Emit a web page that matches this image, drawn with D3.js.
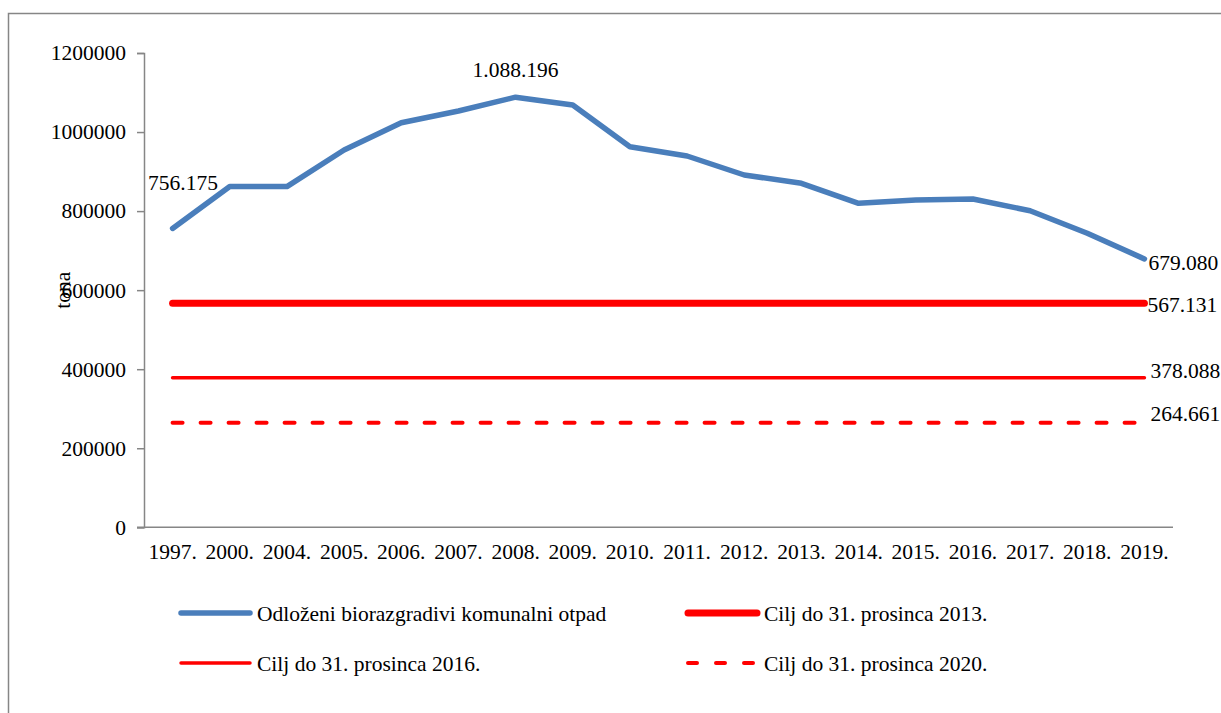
<!DOCTYPE html>
<html>
<head>
<meta charset="utf-8">
<script src="https://cdn.jsdelivr.net/npm/d3@7"></script>
<style>
  body { margin: 0; background: #fff; }
  svg { font-family: "Liberation Serif", "Times New Roman", serif; }
</style>
</head>
<body>
<svg id="chart" width="1221" height="713"></svg>
<script>
// years on the x axis
const years = ["1997.", "2000.", "2004.", "2005.", "2006.", "2007.", "2008.", "2009.", "2010.",
  "2011.", "2012.", "2013.", "2014.", "2015.", "2016.", "2017.", "2018.", "2019."];
// deposited biodegradable municipal waste (tonnes)
const waste = [756175, 862000, 862000, 954600, 1023600, 1053300, 1088196, 1068400, 963000,
  939400, 891300, 870300, 819700, 828100, 830600, 801000, 743800, 679080];
const wasteName = "Odloženi biorazgradivi komunalni otpad";
// targets
const targetNames = ["Cilj do 31. prosinca 2013.", "Cilj do 31. prosinca 2016.", "Cilj do 31. prosinca 2020."];
const targetValues = [567131, 378088, 264661];
const yTicks = [0, 200000, 400000, 600000, 800000, 1000000, 1200000];
const yLabel = "tona";

const svg = d3.select("#chart");
const fontSize = 21.5;
const axisColor = "#868686";

// frame round the whole chart
svg.append("rect")
  .attr("x", 8.5).attr("y", 13.5)
  .attr("width", 1240).attr("height", 720)
  .attr("fill", "none")
  .attr("stroke", axisColor)
  .attr("stroke-width", 1.5);

const x = d3.scaleBand().domain(years).range([144, 1173]);
const y = d3.scaleLinear().domain([0, 1200000]).range([527.3, 53]);
const cx = d => x(d) + x.bandwidth() / 2;

const loc = d3.formatLocale({ decimal: ",", thousands: ".", grouping: [3], currency: ["", ""] });
const fmt = loc.format(",d");

// y axis
const gy = svg.append("g")
  .attr("transform", "translate(144,0)")
  .call(d3.axisLeft(y).tickValues(yTicks).tickFormat(d3.format("d")).tickSize(7).tickPadding(11));
gy.select(".domain").attr("stroke", axisColor).attr("stroke-width", 1.5);
gy.selectAll(".tick line").attr("stroke", axisColor).attr("stroke-width", 1.5);
gy.selectAll("text").attr("font-size", fontSize).attr("font-family", "Liberation Serif").attr("fill", "#000");

// x axis
const gx = svg.append("g")
  .attr("transform", "translate(0," + y(0) + ")")
  .call(d3.axisBottom(x).tickSize(0).tickPadding(16.5));
gx.select(".domain").attr("stroke", axisColor).attr("stroke-width", 1.5)
  .attr("d", "M137,0H1173");
gx.selectAll("text").attr("font-size", fontSize).attr("font-family", "Liberation Serif").attr("fill", "#000");

// y axis title
svg.append("text")
  .attr("transform", "translate(62," + y(600000) + ") rotate(-90)")
  .attr("text-anchor", "middle")
  .attr("dy", "0.35em")
  .attr("font-size", fontSize)
  .text(yLabel);

// target lines
const targetStyles = [
  { width: 7, dash: null },
  { width: 3.5, dash: null },
  { width: 4, dash: "10,18" }
];
targetValues.forEach((v, i) => {
  svg.append("line")
    .attr("x1", cx(years[0])).attr("x2", cx(years[years.length - 1]))
    .attr("y1", y(v)).attr("y2", y(v))
    .attr("stroke", "#ff0000")
    .attr("stroke-width", targetStyles[i].width)
    .attr("stroke-linecap", "round")
    .attr("stroke-dasharray", targetStyles[i].dash);
});

// waste line
const line = d3.line().x((d, i) => cx(years[i])).y(d => y(d));
svg.append("path")
  .datum(waste)
  .attr("d", line)
  .attr("fill", "none")
  .attr("stroke", "#4a7ebb")
  .attr("stroke-width", 5.5)
  .attr("stroke-linejoin", "round")
  .attr("stroke-linecap", "round");

// data labels
const last = years.length - 1;
const peak = waste.indexOf(d3.max(waste));
svg.append("text").attr("x", 148).attr("y", y(waste[0]) - 38)
  .attr("font-size", fontSize).text(fmt(waste[0]));
svg.append("text").attr("x", cx(years[peak])).attr("y", y(waste[peak]) - 20)
  .attr("text-anchor", "middle").attr("font-size", fontSize).text(fmt(waste[peak]));
svg.append("text").attr("x", cx(years[last]) + 4).attr("y", y(waste[last]) + 4)
  .attr("dy", "0.32em").attr("font-size", fontSize).text(fmt(waste[last]));

const targetLabelDx = [3, 6, 6];
const targetLabelDy = [9, 0, -2];
targetValues.forEach((v, i) => {
  svg.append("text")
    .attr("x", cx(years[last]) + targetLabelDx[i])
    .attr("y", y(v) + targetLabelDy[i])
    .attr("font-size", fontSize)
    .text(fmt(v));
});

// legend
const legendItems = [
  { name: wasteName, color: "#4a7ebb", width: 5.5, dash: null },
  { name: targetNames[0], color: "#ff0000", width: 7, dash: null },
  { name: targetNames[1], color: "#ff0000", width: 3.5, dash: null },
  { name: targetNames[2], color: "#ff0000", width: 4, dash: "9,19" }
];
const colX = [181, 688];
const rowY = [613, 663];
legendItems.forEach((it, i) => {
  const lx = colX[i % 2], ly = rowY[Math.floor(i / 2)];
  const g = svg.append("g").attr("transform", "translate(" + lx + "," + ly + ")");
  g.append("line")
    .attr("x1", 0).attr("x2", 69).attr("y1", 0).attr("y2", 0)
    .attr("stroke", it.color)
    .attr("stroke-width", it.width)
    .attr("stroke-linecap", "round")
    .attr("stroke-dasharray", it.dash);
  g.append("text")
    .attr("x", 76).attr("dy", "0.35em")
    .attr("font-size", fontSize)
    .text(it.name);
});
</script>
</body>
</html>
